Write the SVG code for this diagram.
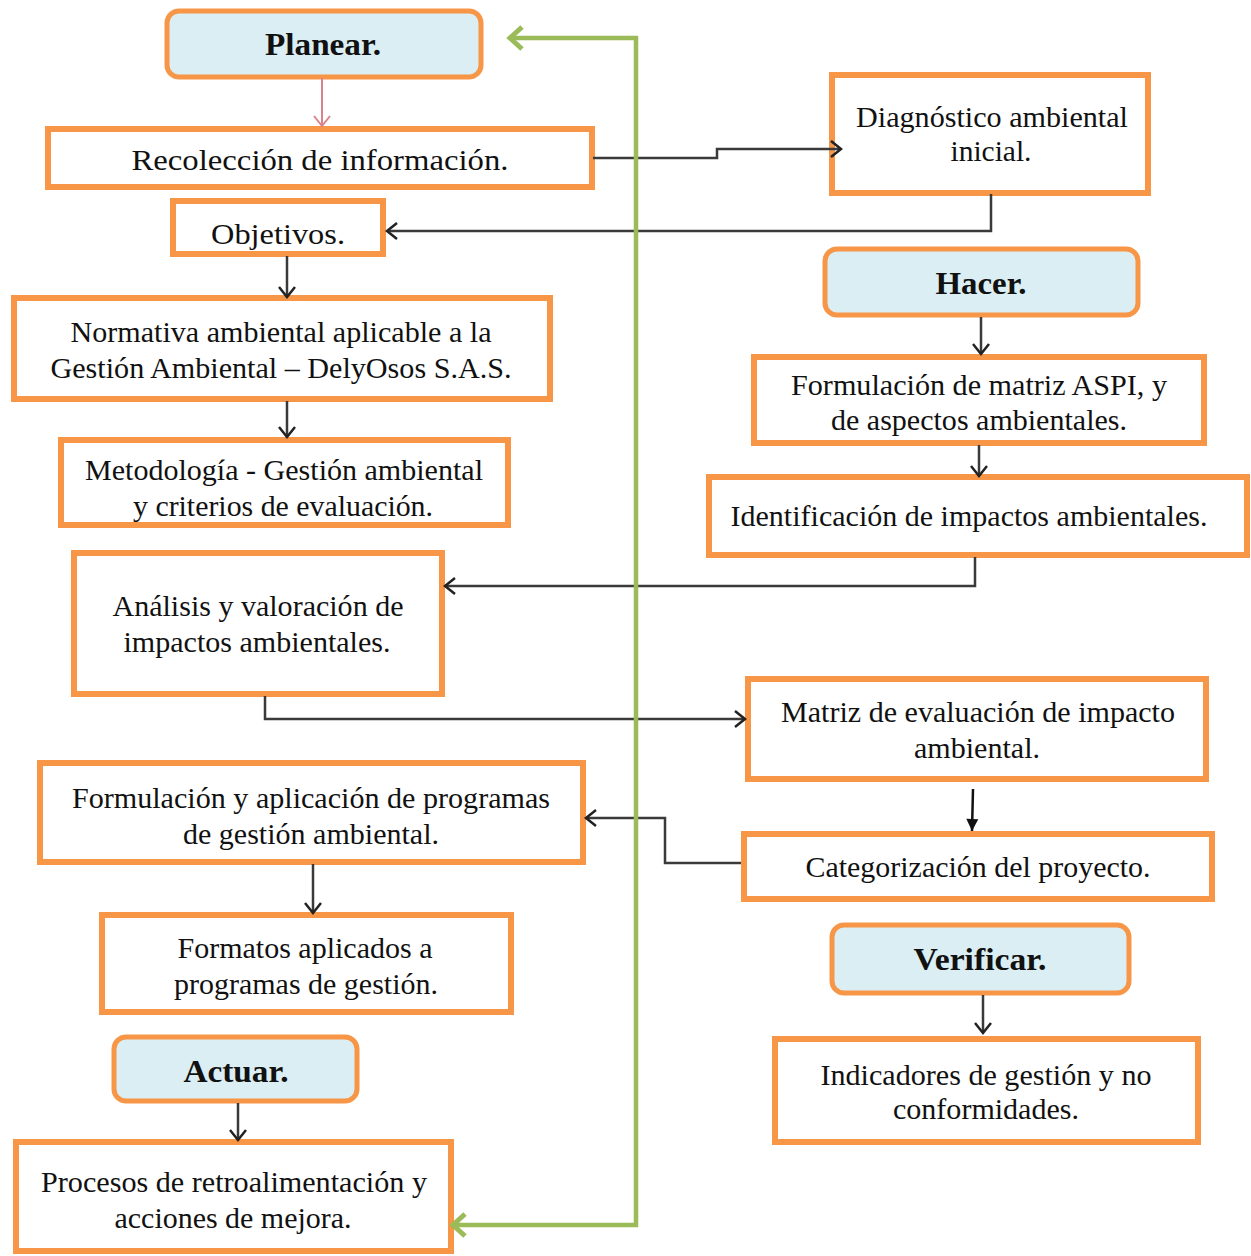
<svg xmlns="http://www.w3.org/2000/svg" width="1251" height="1256" viewBox="0 0 1251 1256">
<style>
.box{fill:#ffffff;stroke:#f79646;stroke-width:6}
.phase{fill:#dbeef4;stroke:#f79646;stroke-width:5}
text{font-family:'Liberation Serif','DejaVu Serif',serif;font-size:29px;fill:#111;text-anchor:middle}
.b{font-weight:bold;font-size:31px}
.c{fill:none;stroke:#3a3a3a;stroke-width:2.5}
</style>
<defs>
<marker id="a" markerUnits="userSpaceOnUse" markerWidth="24" markerHeight="24" refX="20" refY="12" orient="auto">
<path d="M10,4 L20,12 L10,20" fill="none" stroke="#222" stroke-width="2.5"/>
</marker>
<marker id="ap" markerUnits="userSpaceOnUse" markerWidth="24" markerHeight="24" refX="20" refY="12" orient="auto">
<path d="M10,4 L20,12 L10,20" fill="none" stroke="#d9848a" stroke-width="2"/>
</marker>
<marker id="af" markerUnits="userSpaceOnUse" markerWidth="24" markerHeight="24" refX="20" refY="12" orient="auto">
<path d="M8,6 L20,12 L8,18 Z" fill="#111"/>
</marker>
<marker id="ag" markerUnits="userSpaceOnUse" markerWidth="30" markerHeight="30" refX="22" refY="15" orient="auto-start-reverse">
<path d="M10,4 L22,15 L10,26" fill="none" stroke="#9bbb59" stroke-width="5"/>
</marker>
</defs>

<g id="planear"><rect class="phase" x="167" y="11" width="314" height="66" rx="12"/><text class="b" x="323" y="55" textLength="116" lengthAdjust="spacingAndGlyphs">Planear.</text></g>
<g id="recoleccion"><rect class="box" x="48" y="129" width="544" height="58" stroke-width="5"/><text x="320" y="170" textLength="377" lengthAdjust="spacingAndGlyphs">Recolección de información.</text></g>
<g id="objetivos"><rect class="box" x="173" y="201" width="210" height="53"/><text x="278" y="244" textLength="134" lengthAdjust="spacingAndGlyphs">Objetivos.</text></g>
<g id="diagnostico"><rect class="box" x="832" y="75" width="316" height="118" stroke-width="8"/><text x="992" y="127" textLength="272" lengthAdjust="spacingAndGlyphs">Diagnóstico ambiental</text><text x="991" y="161" textLength="81" lengthAdjust="spacingAndGlyphs">inicial.</text></g>
<g id="hacer"><rect class="phase" x="825" y="249" width="313" height="66" rx="12"/><text class="b" x="981" y="294" textLength="91" lengthAdjust="spacingAndGlyphs">Hacer.</text></g>
<g id="normativa"><rect class="box" x="14" y="298" width="536" height="101" stroke-width="7"/><text x="281" y="342" textLength="421" lengthAdjust="spacingAndGlyphs">Normativa ambiental aplicable a la</text><text x="281" y="378" textLength="461" lengthAdjust="spacingAndGlyphs">Gestión Ambiental – DelyOsos S.A.S.</text></g>
<g id="metodologia"><rect class="box" x="61" y="440" width="447" height="85"/><text x="284" y="480" textLength="398" lengthAdjust="spacingAndGlyphs">Metodología - Gestión ambiental</text><text x="283" y="516" textLength="300" lengthAdjust="spacingAndGlyphs">y criterios de evaluación.</text></g>
<g id="aspi"><rect class="box" x="754" y="357" width="450" height="86"/><text x="979" y="395" textLength="376" lengthAdjust="spacingAndGlyphs">Formulación de matriz ASPI, y</text><text x="979" y="430" textLength="296" lengthAdjust="spacingAndGlyphs">de aspectos ambientales.</text></g>
<g id="identificacion"><rect class="box" x="709" y="477" width="538" height="78"/><text x="969" y="526" textLength="477" lengthAdjust="spacingAndGlyphs">Identificación de impactos ambientales.</text></g>
<g id="analisis"><rect class="box" x="74" y="553" width="368" height="141"/><text x="258" y="616" textLength="291" lengthAdjust="spacingAndGlyphs">Análisis y valoración de</text><text x="257" y="652" textLength="267" lengthAdjust="spacingAndGlyphs">impactos ambientales.</text></g>
<g id="matriz"><rect class="box" x="748" y="679" width="458" height="100"/><text x="978" y="722" textLength="394" lengthAdjust="spacingAndGlyphs">Matriz de evaluación de impacto</text><text x="977" y="758" textLength="126" lengthAdjust="spacingAndGlyphs">ambiental.</text></g>
<g id="programas"><rect class="box" x="40" y="763" width="543" height="99"/><text x="311" y="808" textLength="478" lengthAdjust="spacingAndGlyphs">Formulación y aplicación de programas</text><text x="311" y="844" textLength="256" lengthAdjust="spacingAndGlyphs">de gestión ambiental.</text></g>
<g id="categorizacion"><rect class="box" x="744" y="834" width="468" height="65"/><text x="978" y="877" textLength="345" lengthAdjust="spacingAndGlyphs">Categorización del proyecto.</text></g>
<g id="formatos"><rect class="box" x="102" y="915" width="409" height="97"/><text x="305" y="958" textLength="255" lengthAdjust="spacingAndGlyphs">Formatos aplicados a</text><text x="306" y="994" textLength="264" lengthAdjust="spacingAndGlyphs">programas de gestión.</text></g>
<g id="verificar"><rect class="phase" x="832" y="925" width="297" height="68" rx="12"/><text class="b" x="980" y="970" textLength="133" lengthAdjust="spacingAndGlyphs">Verificar.</text></g>
<g id="actuar"><rect class="phase" x="114" y="1037" width="243" height="64" rx="12"/><text class="b" x="236" y="1082" textLength="105" lengthAdjust="spacingAndGlyphs">Actuar.</text></g>
<g id="indicadores"><rect class="box" x="775" y="1039" width="423" height="103"/><text x="986" y="1085" textLength="331" lengthAdjust="spacingAndGlyphs">Indicadores de gestión y no</text><text x="986" y="1119" textLength="186" lengthAdjust="spacingAndGlyphs">conformidades.</text></g>
<g id="procesos"><rect class="box" x="16" y="1142" width="435" height="109"/><text x="234" y="1192" textLength="386" lengthAdjust="spacingAndGlyphs">Procesos de retroalimentación y</text><text x="233" y="1228" textLength="237" lengthAdjust="spacingAndGlyphs">acciones de mejora.</text></g>

<g id="connectors">
<line x1="322" y1="78" x2="322" y2="126" stroke="#d9848a" stroke-width="2" marker-end="url(#ap)"/>
<polyline class="c" points="593,158 717,158 717,149 841,149" marker-end="url(#a)"/>
<polyline class="c" points="991,194 991,231 387,231" marker-end="url(#a)"/>
<line class="c" x1="287" y1="256" x2="287" y2="297" marker-end="url(#a)"/>
<line class="c" x1="287" y1="401" x2="287" y2="437" marker-end="url(#a)"/>
<line class="c" x1="981" y1="317" x2="981" y2="354" marker-end="url(#a)"/>
<line class="c" x1="979" y1="445" x2="979" y2="476" marker-end="url(#a)"/>
<polyline class="c" points="975,557 975,586 445,586" marker-end="url(#a)"/>
<polyline class="c" points="265,696 265,719 745,719" marker-end="url(#a)"/>
<line x1="973" y1="789" x2="972" y2="831" stroke="#111" stroke-width="2.5" marker-end="url(#af)"/>
<polyline class="c" points="741,863 665,863 665,818 586,818" marker-end="url(#a)"/>
<line class="c" x1="313" y1="864" x2="313" y2="913" marker-end="url(#a)"/>
<line class="c" x1="983" y1="995" x2="983" y2="1033" marker-end="url(#a)"/>
<line class="c" x1="238" y1="1103" x2="238" y2="1140" marker-end="url(#a)"/>
<polyline points="453,1225 636,1225 636,38 510,38" fill="none" stroke="#9bbb59" stroke-width="4.5" marker-start="url(#ag)" marker-end="url(#ag)"/>
</g>
</svg>
